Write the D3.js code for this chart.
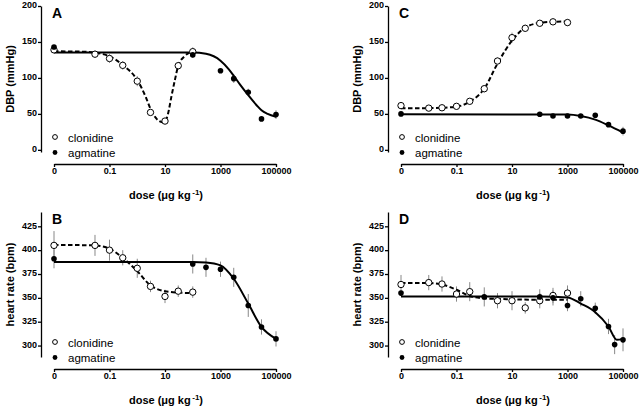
<!DOCTYPE html>
<html>
<head>
<meta charset="utf-8">
<script src="https://cdn.jsdelivr.net/npm/d3@7"></script>
<style>
  body { margin: 0; background: #fff; }
  svg { display: block; font-family: "Liberation Sans", Arial, sans-serif; }
  .tick text { font-size: 9px; font-weight: bold; fill: #000; }
  .domain, .tick line { stroke: #000; stroke-width: 1.3; }
  .err { stroke: #888; stroke-width: 1; }
  .fit { fill: none; stroke: #000; stroke-width: 2; }
  .fit.dashed { stroke-dasharray: 4.5,2.5; }
</style>
</head>
<body>
<div class="container"></div>
<script>
// x ticks: "0" dose is plotted at 0.001 on the log axis
const doseTicks = [0.001, 0.1, 10, 1000, 100000];
const doseTickLabels = ['0', '0.1', '10', '1000', '100000'];

const dbpTicks = [0, 50, 100, 150, 200];
const hrTicks = [300, 325, 350, 375, 400, 425];

// A: DBP, first protocol
const aCloDose = [0.001, 0.03, 0.1, 0.3, 1, 3, 10, 30, 100];
const aCloVal  = [139, 133, 127, 117.5, 95.5, 52, 40, 117, 136.5];
const aCloErr  = [2, 5, 6, 6, 7, 4, 2, 5, 6];
const aAgmDose = [0.001, 100, 1000, 3000, 10000, 30000, 100000];
const aAgmVal  = [143, 132, 110, 99, 80, 43, 49];
const aAgmErr  = [2, 4, 3, 6, 5, 3, 6];
const aCloFit  = [[0.001,137],[0.01,136.5],[0.03,135],[0.1,130],[0.3,118],[1,97],[2,74],[3,57],[5,43],[8,38.5],[10,39],[13,51],[17,74],[23,98],[30,117],[50,130],[100,136.5]];
const aAgmFit  = [[0.001,135.5],[100,135.3],[300,133.5],[1000,124],[2000,112],[3000,103],[5000,91],[10000,76],[20000,62],[30000,55],[50000,50],[100000,46]];

// B: heart rate, first protocol
const bCloDose = [0.001, 0.03, 0.1, 0.3, 1, 3, 10, 30, 100];
const bCloVal  = [405, 405, 400, 392, 381, 362, 351.5, 357, 356];
const bCloErr  = [15, 11, 11, 8, 10, 6, 7, 6, 6];
const bAgmDose = [0.001, 100, 300, 1000, 3000, 10000, 30000, 100000];
const bAgmVal  = [391, 385.5, 382, 380, 371.5, 342, 319.5, 307];
const bAgmErr  = [10, 10, 10, 8, 10, 12, 8, 8];
const bCloFit  = [[0.001,405.5],[0.03,405],[0.1,401.5],[0.3,392],[1,378],[3,363],[10,357],[30,355.5],[100,355]];
const bAgmFit  = [[0.001,387.5],[100,387.5],[300,387],[1000,384],[3000,370],[10000,344],[30000,319.5],[100000,307]];

// C: DBP, second protocol
const cCloDose = [0.001, 0.01, 0.03, 0.1, 0.3, 1, 3, 10, 30, 100, 300, 1000];
const cCloVal  = [61.5, 58, 58.5, 60.5, 67.5, 85, 123.5, 156, 169, 176, 178, 177];
const cCloErr  = [2, 2, 2, 3, 4, 5, 5, 7, 5, 4, 3, 5];
const cAgmDose = [0.001, 100, 300, 1000, 3000, 10000, 30000, 100000];
const cAgmVal  = [50, 49.5, 47, 47, 47, 48, 35, 26];
const cAgmErr  = [1, 1, 1, 2, 1, 2, 2, 6];
const cCloFit  = [[0.001,58],[0.01,58],[0.03,58.5],[0.1,60],[0.3,67],[1,85],[3,120],[10,152],[30,170],[100,176.5],[300,178],[1000,178.5]];
const cAgmFit  = [[0.001,49.5],[1000,49],[3000,47],[10000,42],[30000,34],[100000,24]];

// D: heart rate, second protocol
const dCloDose = [0.001, 0.01, 0.03, 0.1, 0.3, 3, 10, 30, 100, 300, 1000];
const dCloVal  = [364, 366, 364.5, 354, 356.5, 347, 347, 339.5, 347, 352.5, 355];
const dCloErr  = [10, 8, 8, 8, 10, 8, 10, 6, 8, 8, 8];
const dAgmDose = [0.001, 1, 100, 300, 1000, 3000, 10000, 30000, 50000, 100000];
const dAgmVal  = [355, 351, 351, 350, 342, 349, 339, 320, 301, 306];
const dAgmErr  = [3, 10, 8, 8, 6, 8, 6, 8, 10, 12];
const dCloFit  = [[0.001,365.5],[0.01,365.5],[0.03,364],[0.1,358.5],[0.3,352],[1,349.5],[10,348.5],[100,348],[1000,348]];
const dAgmFit  = [[0.001,351.5],[100,351.5],[1000,350.5],[3000,344],[10000,335],[30000,320],[60000,306],[100000,307]];

const zip = (dose, val, err) => dose.map((d, i) => ({dose: d, val: val[i], err: err[i]}));

const panels = [
  {key: 'A', left: 41, x0: 54, x1: 276, top: 6, bot: 152, axisY: 164, yDomain: [-3, 200], yTicks: dbpTicks, yLabel: 'DBP (mmHg)',
   clo: zip(aCloDose, aCloVal, aCloErr), agm: zip(aAgmDose, aAgmVal, aAgmErr), cloFit: aCloFit, agmFit: aAgmFit},
  {key: 'B', left: 41, x0: 54, x1: 276, top: 212, bot: 357, axisY: 369, yDomain: [288, 440], yTicks: hrTicks, yLabel: 'heart rate (bpm)',
   clo: zip(bCloDose, bCloVal, bCloErr), agm: zip(bAgmDose, bAgmVal, bAgmErr), cloFit: bCloFit, agmFit: bAgmFit},
  {key: 'C', left: 388, x0: 401, x1: 623, top: 6, bot: 152, axisY: 164, yDomain: [-3, 200], yTicks: dbpTicks, yLabel: 'DBP (mmHg)',
   clo: zip(cCloDose, cCloVal, cCloErr), agm: zip(cAgmDose, cAgmVal, cAgmErr), cloFit: cCloFit, agmFit: cAgmFit},
  {key: 'D', left: 388, x0: 401, x1: 623, top: 212, bot: 357, axisY: 369, yDomain: [288, 440], yTicks: hrTicks, yLabel: 'heart rate (bpm)',
   clo: zip(dCloDose, dCloVal, dCloErr), agm: zip(dAgmDose, dAgmVal, dAgmErr), cloFit: dCloFit, agmFit: dAgmFit}
];

const svg = d3.select('.container').append('svg')
  .attr('width', 640)
  .attr('height', 410);

panels.forEach(drawPanel);

function drawPanel(p) {
  const g = svg.append('g');

  const x = d3.scaleLog().domain([0.001, 100000]).range([p.x0, p.x1]);
  const y = d3.scaleLinear().domain(p.yDomain).range([p.bot, p.top]);

  g.append('g')
    .attr('transform', `translate(${p.left},0)`)
    .call(d3.axisLeft(y).tickValues(p.yTicks).tickSize(3).tickSizeOuter(0).tickPadding(1))
    .selectAll('.tick text').attr('dy', '0.2em');

  g.append('g')
    .attr('transform', `translate(0,${p.axisY})`)
    .call(d3.axisBottom(x).tickValues(doseTicks).tickFormat((d, i) => doseTickLabels[i])
      .tickSize(3).tickSizeOuter(0).tickPadding(1));

  // axis titles
  g.append('text')
    .attr('transform', `translate(${p.left - 27},${(p.top + p.bot) / 2}) rotate(-90)`)
    .attr('text-anchor', 'middle')
    .attr('font-size', 11)
    .attr('font-weight', 'bold')
    .text(p.yLabel);

  const xt = g.append('text')
    .attr('x', (p.x0 + p.x1) / 2 + 1)
    .attr('y', p.axisY + 35)
    .attr('text-anchor', 'middle')
    .attr('font-size', 11)
    .attr('font-weight', 'bold');
  xt.append('tspan').text('dose (\u03bcg kg');
  xt.append('tspan').attr('dy', -4).attr('dx', 1.5).attr('font-size', 8).text('-1');
  xt.append('tspan').attr('dy', 4).text(')');

  g.append('text')
    .attr('x', p.x0 - 2)
    .attr('y', p.top + 12)
    .attr('font-size', 14)
    .attr('font-weight', 'bold')
    .text(p.key);

  // error bars
  g.append('g').selectAll('line')
    .data(p.clo.concat(p.agm))
    .enter().append('line')
      .attr('class', 'err')
      .attr('x1', d => x(d.dose))
      .attr('x2', d => x(d.dose))
      .attr('y1', d => y(d.val - d.err))
      .attr('y2', d => y(d.val + d.err));

  const line = d3.line()
    .x(d => x(d[0]))
    .y(d => y(d[1]))
    .curve(d3.curveMonotoneX);

  g.append('path').datum(p.cloFit).attr('class', 'fit dashed').attr('d', line);
  g.append('path').datum(p.agmFit).attr('class', 'fit').attr('d', line);

  g.append('g').selectAll('circle')
    .data(p.clo)
    .enter().append('circle')
      .attr('cx', d => x(d.dose))
      .attr('cy', d => y(d.val))
      .attr('r', 3.2)
      .attr('fill', '#fff')
      .attr('stroke', '#000')
      .attr('stroke-width', 1);

  g.append('g').selectAll('circle')
    .data(p.agm)
    .enter().append('circle')
      .attr('cx', d => x(d.dose))
      .attr('cy', d => y(d.val))
      .attr('r', 2.8)
      .attr('fill', '#000');

  // legend
  const lg = g.append('g').attr('transform', `translate(${p.x0 + 1},${p.bot - 15})`);
  lg.append('circle').attr('r', 2.4).attr('fill', '#fff').attr('stroke', '#000');
  lg.append('circle').attr('cy', 15.5).attr('r', 2.4).attr('fill', '#000');
  lg.append('text').attr('x', 13).attr('y', 4.5).attr('font-size', 11.5).text('clonidine');
  lg.append('text').attr('x', 13).attr('y', 19.5).attr('font-size', 11.5).text('agmatine');
}
</script>
</body>
</html>
